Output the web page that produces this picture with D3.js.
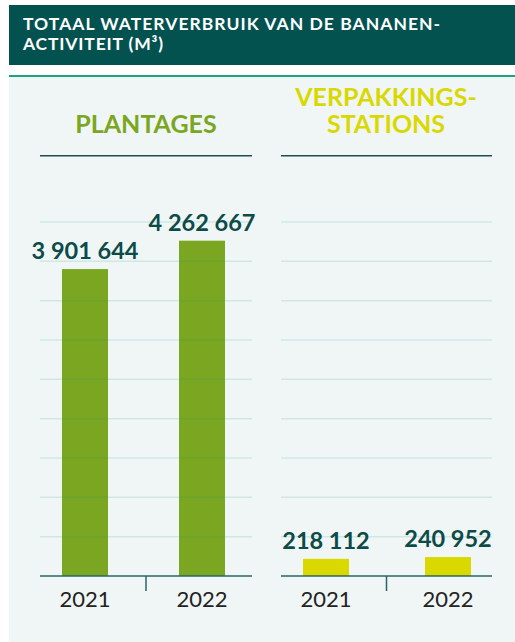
<!DOCTYPE html>
<html><head><meta charset="utf-8">
<script src="https://cdn.jsdelivr.net/npm/d3@7"></script>
<style>
html,body{margin:0;padding:0;background:#fff;}
svg{display:block;}
text{font-family:Lato,"Open Sans",sans-serif;}
</style></head>
<body>
<script>
// ---- data ----
const years = ["2021", "2022"];
const plantages = [3901644, 4262667];
const stations = [218112, 240952];
const titleLines = ["TOTAAL WATERVERBRUIK VAN DE BANANEN-", "ACTIVITEIT (M³)"];
const plantagesTitle = ["PLANTAGES"];
const stationsTitle = ["VERPAKKINGS-", "STATIONS"];
const gridValues = [500000, 1000000, 1500000, 2000000, 2500000, 3000000, 3500000, 4000000, 4500000];

const W = 515, H = 642;
const svg = d3.select("body").append("svg").attr("width", W).attr("height", H);

// header
svg.append("rect").attr("x", 9).attr("y", 5).attr("width", W - 9).attr("height", 60).attr("fill", "#03524f");
const titleWidths = [417, 140];
svg.append("g").selectAll("text").data(titleLines).join("text")
  .attr("x", 23).attr("y", (d, i) => 30 + i * 20).attr("fill", "#fff")
  .attr("font-size", 17.5).attr("font-weight", 700)
  .attr("textLength", (d, i) => titleWidths[i]).attr("lengthAdjust", "spacing")
  .text(d => d);

// panel background
svg.append("rect").attr("x", 9).attr("y", 76).attr("width", W - 9).attr("height", H - 76).attr("fill", "#f0f6f6");
svg.append("line").attr("x1", 9).attr("x2", W).attr("y1", 76).attr("y2", 76)
  .attr("stroke", "#1aa57a").attr("stroke-width", 2);

const y = d3.scaleLinear().domain([0, 4500000]).range([576, 222]);
const fmt = v => d3.format(",")(v).replace(/,/g, " ");

const panels = [
  { title: plantagesTitle, color: "#7aa621", tcolor: "#7aa621", values: plantages,
    axis: [40, 252], band: [26.5, 260.5], pad: 0.607, titleY: 133, cx: 146 },
  { title: stationsTitle, color: "#d9d800", tcolor: "#d9d800", values: stations,
    axis: [281, 492], band: [265, 509], pad: 0.623, titleY: 106, cx: 386 }
];

panels.forEach(p => {
  const g = svg.append("g");
  const x = d3.scaleBand().domain(years).range(p.band).paddingInner(p.pad).paddingOuter(p.pad / 2);

  // title
  g.selectAll("text.ttl").data(p.title).join("text").attr("class", "ttl")
    .attr("text-anchor", "middle").attr("fill", p.tcolor)
    .attr("font-size", 25).attr("font-weight", 700)
    .attr("x", p.cx).attr("y", (d, i) => p.titleY + i * 27).text(d => d);

  // top rule
  g.append("line").attr("x1", p.axis[0]).attr("x2", p.axis[1]).attr("y1", 155.7).attr("y2", 155.7)
    .attr("stroke", "#1d4f4f").attr("stroke-width", 1.5);

  // bars
  g.selectAll("rect.bar").data(p.values).join("rect").attr("class", "bar")
    .attr("x", (d, i) => x(years[i])).attr("width", x.bandwidth())
    .attr("y", d => y(d)).attr("height", d => y(0) - y(d)).attr("fill", p.color);

  // grid lines
  g.selectAll("line.grid").data(gridValues).join("line").attr("class", "grid")
    .attr("x1", p.axis[0]).attr("x2", p.axis[1])
    .attr("y1", d => y(d)).attr("y2", d => y(d))
    .attr("stroke", "#1a9c80").attr("stroke-opacity", 0.15).attr("stroke-width", 1.5);

  // axis
  g.append("line").attr("x1", p.axis[0]).attr("x2", p.axis[1]).attr("y1", y(0)).attr("y2", y(0))
    .attr("stroke", "#2b6464").attr("stroke-width", 1.5);
  const mid = (p.axis[0] + p.axis[1]) / 2;
  g.append("line").attr("x1", mid).attr("x2", mid).attr("y1", y(0)).attr("y2", y(0) + 15)
    .attr("stroke", "#2b6464").attr("stroke-width", 1.5);

  // value labels
  g.selectAll("text.val").data(p.values).join("text").attr("class", "val")
    .attr("x", (d, i) => x(years[i]) + x.bandwidth() / 2).attr("y", d => y(d) - 10)
    .attr("text-anchor", "middle").attr("fill", "#0c4b47")
    .attr("font-size", 23.5).attr("font-weight", 700).text(d => fmt(d));

  // year labels
  g.selectAll("text.yr").data(years).join("text").attr("class", "yr")
    .attr("x", d => x(d) + x.bandwidth() / 2).attr("y", 607)
    .attr("text-anchor", "middle").attr("fill", "#222")
    .attr("font-size", 22).text(d => d);
});
</script>
</body></html>
